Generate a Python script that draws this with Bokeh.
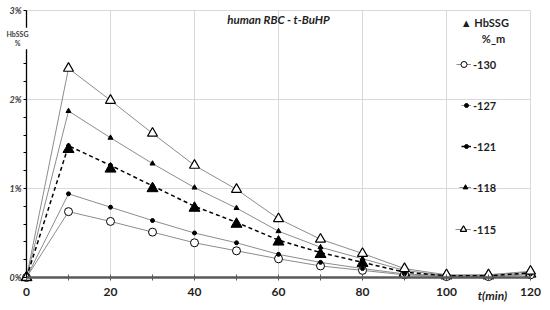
from bokeh.plotting import figure
from bokeh.models import Range1d, FixedTicker, Label, Legend, LegendItem, CustomJSTickFormatter
from bokeh.embed import file_html
from bokeh.resources import INLINE

# ---- data (HbSSG, % of Hb) ----
time_min = [0, 10, 20, 30, 40, 50, 60, 70, 80, 90, 100, 110, 120]
s_130 = [0, 0.74, 0.63, 0.51, 0.39, 0.30, 0.21, 0.13, 0.08, 0.03, 0.01, 0.01, 0.03]
s_127 = [0, 0.94, 0.79, 0.64, 0.50, 0.39, 0.26, 0.17, 0.10, 0.04, 0.02, 0.02, 0.04]
s_121 = [0, 1.48, 1.26, 1.03, 0.80, 0.62, 0.42, 0.28, 0.17, 0.06, 0.02, 0.02, 0.05]
s_118 = [0, 1.87, 1.57, 1.28, 1.01, 0.78, 0.52, 0.34, 0.21, 0.08, 0.02, 0.03, 0.06]
s_115 = [0, 2.35, 1.99, 1.62, 1.26, 0.99, 0.66, 0.43, 0.27, 0.10, 0.03, 0.03, 0.07]
hbssg_m = [0, 1.44, 1.22, 1.00, 0.78, 0.60, 0.40, 0.26, 0.16, 0.05, 0.02, 0.02, 0.04]
series_labels = ["-130", "-127", "-121", "-118", "-115"]
x_ticks = [0, 20, 40, 60, 80, 100, 120]
x_minor = [10, 30, 50, 70, 90, 110]
y_ticks = [0, 1, 2, 3]
y_minor = [0.2, 0.4, 0.6, 0.8, 1.2, 1.4, 1.6, 1.8, 2.2, 2.4, 2.6, 2.8]

FONT = "Lato"
TXT = "#1f1f1f"
GRAY = "#8c8c8c"

W, H = 548, 308
# frame covers the whole canvas; axes are pinned at 0
p = figure(width=W, height=H, output_backend="svg", toolbar_location=None,
           x_range=Range1d(-26 / 4.2, 120 + (W - 530) / 4.2),
           y_range=Range1d(-(H - 277) / 89.0, 3 + 10 / 89.0),
           min_border_left=0, min_border_right=0, min_border_top=0, min_border_bottom=0)
p.outline_line_color = None
p.styles = {"outline": "1px solid #d9d9d9", "outline-offset": "-5px"}

# axes
xa = p.xaxis[0]
xa.fixed_location = 0
xa.bounds = (0, 120)
xa.ticker = FixedTicker(ticks=x_ticks, minor_ticks=x_minor)
xa.axis_line_color = "#595959"
xa.axis_line_width = 2.5
xa.major_tick_line_color = "#595959"
xa.minor_tick_line_color = "#595959"
xa.major_tick_in = 3
xa.major_tick_out = 3
xa.minor_tick_in = 3
xa.minor_tick_out = 3
xa.major_label_text_font = FONT
xa.major_label_text_font_size = "12px"
xa.major_label_text_font_style = "bold"
xa.major_label_text_color = TXT
xa.major_label_standoff = 7

ya = p.yaxis[0]
ya.fixed_location = 0
ya.bounds = (0, 3)
ya.ticker = FixedTicker(ticks=y_ticks, minor_ticks=y_minor)
ya.formatter = CustomJSTickFormatter(code="return tick.toFixed(0) + '%';")
ya.axis_line_color = "black"
ya.axis_line_width = 1.3
ya.major_tick_line_color = "black"
ya.minor_tick_line_color = "black"
ya.major_tick_in = 0
ya.major_tick_out = 3
ya.minor_tick_in = 0
ya.minor_tick_out = 3
ya.major_label_text_font = FONT
ya.major_label_text_font_size = "9px"
ya.major_label_text_font_style = "bold italic"
ya.major_label_text_color = "#404040"
ya.major_label_standoff = 2

p.xgrid.grid_line_color = "#d9d9d9"
p.ygrid.grid_line_color = "#d9d9d9"
p.xgrid.cross_bounds = (0, 3)
p.ygrid.cross_bounds = (0, 120)

# series
l130 = p.line(time_min, s_130, line_color=GRAY, line_width=1)
l127 = p.line(time_min, s_127, line_color=GRAY, line_width=1)
l118 = p.line(time_min, s_118, line_color=GRAY, line_width=1)
l115 = p.line(time_min, s_115, line_color=GRAY, line_width=1)
l121 = p.line(time_min, s_121, line_color="black", line_width=1.5, line_dash="4 3")

m_h = p.scatter(time_min, hbssg_m, marker="triangle", size=11, fill_color="black", line_color="black")
m130 = p.scatter(time_min, s_130, marker="circle", size=8, fill_color="white", line_color="black", line_width=1)
m127 = p.scatter(time_min, s_127, marker="circle", size=4, fill_color="black", line_color="black")
m121 = p.scatter(time_min, s_121, marker="circle", size=4, fill_color="black", line_color="black")
m118 = p.scatter(time_min, s_118, marker="triangle", size=5, fill_color="black", line_color="black")
m115 = p.scatter(time_min, s_115, marker="triangle", size=10, fill_color="white", line_color="black", line_width=1.2)

# legends (one per entry so that sample sizes can differ)
def add_legend(label, renderers, vx, vy, gw, gh):
    lg = Legend(items=[LegendItem(label=label, renderers=renderers)],
                location=(vx, vy), orientation="vertical",
                glyph_width=gw, glyph_height=gh, label_height=gh, label_standoff=2,
                padding=0, margin=0, spacing=0,
                border_line_color=None, background_fill_alpha=0,
                label_text_font=FONT, label_text_font_size="11px",
                label_text_font_style="bold", label_text_color=TXT)
    p.add_layout(lg, "center")

centers = [64, 105, 146, 187, 229]
groups = [[l130, m130], [l127, m127], [l121, m121], [l118, m118], [l115, m115]]
gw_list = [15, 10, 10, 12, 16]
for lab, grp, c, gw in zip(series_labels, groups, centers, gw_list):
    add_legend(lab, grp, 471 - gw, H - c - 8, gw, 16)

# legend header for the measured HbSSG series
p.add_layout(Label(x=103.4, y=2.865, text="\u25b2 HbSSG", text_align="left", text_baseline="middle",
                   text_font=FONT, text_font_size="11px", text_font_style="bold", text_color=TXT))
p.add_layout(Label(x=111.2, y=2.685, text="%_m", text_align="center", text_baseline="middle",
                   text_font=FONT, text_font_size="11px", text_font_style="bold", text_color=TXT))

# title inside the plot area
p.add_layout(Label(x=60.0, y=2.9, text="human RBC - t-BuHP", text_align="center",
                   text_baseline="middle", text_font=FONT, text_font_size="11.5px",
                   text_font_style="bold italic", text_color=TXT))

# y-axis label breaking the axis line
p.add_layout(Label(x=-2.14, y=2.685, text="HbSSG\n%", text_align="center", text_baseline="middle",
                   text_font=FONT, text_font_size="7px", text_font_style="bold", text_color="#404040",
                   background_fill_color="white", padding=2))

# x-axis label
p.add_layout(Label(x=110.95, y=-0.2, text="t(min)", text_align="center", text_baseline="middle",
                   text_font=FONT, text_font_size="12px", text_font_style="bold italic", text_color=TXT))

open("out.html", "w").write(file_html(p, INLINE))
